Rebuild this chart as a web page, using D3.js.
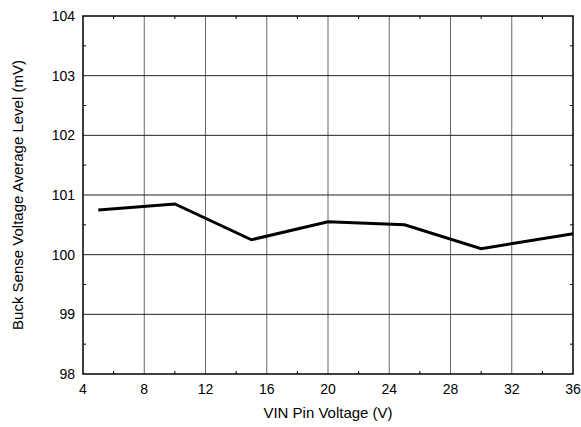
<!DOCTYPE html>
<html>
<head>
<meta charset="utf-8">
<script src="https://cdn.jsdelivr.net/npm/d3@7"></script>
<style>
  body { margin: 0; background: #fff; }
  text { font-family: "Liberation Sans", Arial, sans-serif; fill: #000; }
</style>
</head>
<body>
<svg id="chart" width="581" height="427"></svg>
<script>
const vinVoltage = [5, 10, 15, 20, 25, 30, 36];
const senseLevel = [100.75, 100.85, 100.25, 100.55, 100.5, 100.1, 100.35];
const xTicks = [4, 8, 12, 16, 20, 24, 28, 32, 36];
const yTicks = [98, 99, 100, 101, 102, 103, 104];

const margin = { left: 83, right: 8, top: 16, bottom: 53 };
const width = 581, height = 427;

const svg = d3.select('#chart');

const x = d3.scaleLinear().domain([4, 36]).range([margin.left, width - margin.right]);
const y = d3.scaleLinear().domain([98, 104]).range([height - margin.bottom, margin.top]);

const g = svg.append('g');

// grid
g.selectAll('.vgrid')
  .data(xTicks.slice(1, -1))
  .enter().append('line')
  .attr('x1', d => x(d)).attr('x2', d => x(d))
  .attr('y1', y(98)).attr('y2', y(104))
  .attr('stroke', '#666').attr('stroke-width', 1);

g.selectAll('.hgrid')
  .data(yTicks.slice(1, -1))
  .enter().append('line')
  .attr('x1', x(4)).attr('x2', x(36))
  .attr('y1', d => y(d)).attr('y2', d => y(d))
  .attr('stroke', '#222').attr('stroke-width', 1);

// minor ticks (inward) at midpoints
const xMinor = d3.range(6, 36, 4);
const yMinor = d3.range(98.5, 104, 1);
g.selectAll('.xminB').data(xMinor).enter().append('line')
  .attr('x1', d => x(d)).attr('x2', d => x(d))
  .attr('y1', y(98)).attr('y2', y(98) - 3)
  .attr('stroke', '#000');
g.selectAll('.xminT').data(xMinor).enter().append('line')
  .attr('x1', d => x(d)).attr('x2', d => x(d))
  .attr('y1', y(104)).attr('y2', y(104) + 3)
  .attr('stroke', '#000');
g.selectAll('.yminL').data(yMinor).enter().append('line')
  .attr('x1', x(4)).attr('x2', x(4) + 3)
  .attr('y1', d => y(d)).attr('y2', d => y(d))
  .attr('stroke', '#000');
g.selectAll('.yminR').data(yMinor).enter().append('line')
  .attr('x1', x(36)).attr('x2', x(36) - 3)
  .attr('y1', d => y(d)).attr('y2', d => y(d))
  .attr('stroke', '#000');

// frame
g.append('rect')
  .attr('x', x(4)).attr('y', y(104))
  .attr('width', x(36) - x(4)).attr('height', y(98) - y(104))
  .attr('fill', 'none').attr('stroke', '#000').attr('stroke-width', 1.5);

// tick labels
g.selectAll('.xlab').data(xTicks).enter().append('text')
  .attr('x', d => x(d)).attr('y', y(98) + 20)
  .attr('text-anchor', 'middle').attr('font-size', 14)
  .text(d => d);
g.selectAll('.ylab').data(yTicks).enter().append('text')
  .attr('x', x(4) - 8).attr('y', d => y(d) + 5)
  .attr('text-anchor', 'end').attr('font-size', 14)
  .text(d => d);

// axis titles
svg.append('text')
  .attr('x', (x(4) + x(36)) / 2).attr('y', 418)
  .attr('text-anchor', 'middle').attr('font-size', 15)
  .text('VIN Pin Voltage (V)');
svg.append('text')
  .attr('transform', `translate(23,${(y(98) + y(104)) / 2}) rotate(-90)`)
  .attr('text-anchor', 'middle').attr('font-size', 15)
  .text('Buck Sense Voltage Average Level (mV)');

// data line
const line = d3.line()
  .x((d, i) => x(vinVoltage[i]))
  .y(d => y(d));
g.append('path')
  .datum(senseLevel)
  .attr('d', line)
  .attr('fill', 'none').attr('stroke', '#000').attr('stroke-width', 3);
</script>
</body>
</html>
